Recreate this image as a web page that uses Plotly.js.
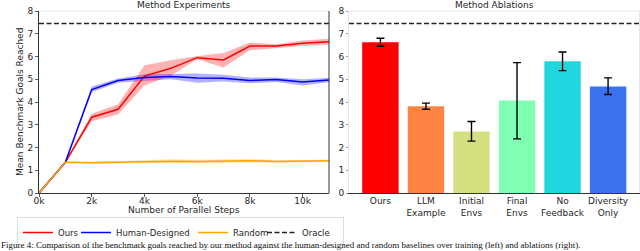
<!DOCTYPE html>
<html>
<head>
<meta charset="utf-8">
<script src="https://cdn.plot.ly/plotly-3.0.1.min.js"></script>
<style>html,body{margin:0;padding:0;background:#fff;}#chart{width:640px;height:251px;}</style>
</head>
<body>
<div id="chart"></div>
<script>
// ---- data ----
var steps = [0, 1000, 2000, 3000, 4000, 5000, 6000, 7000, 8000, 9000, 10000, 11000];
var stepTickVals = [0, 2000, 4000, 6000, 8000, 10000];
var stepTickLabels = ['0k', '2k', '4k', '6k', '8k', '10k'];

var ours   = [0, 1.35, 3.33, 3.68, 5.14, 5.48, 5.95, 5.85, 6.46, 6.46, 6.58, 6.65];
var oursLo = [0, 1.33, 3.15, 3.45, 4.72, 5.15, 5.88, 5.52, 6.28, 6.38, 6.46, 6.52];
var oursHi = [0, 1.37, 3.48, 3.90, 5.62, 5.84, 6.02, 6.15, 6.62, 6.54, 6.70, 6.78];

var human   = [0, 1.35, 4.55, 4.94, 5.08, 5.12, 5.06, 5.04, 4.94, 4.99, 4.88, 4.97];
var humanLo = [0, 1.33, 4.43, 4.85, 4.92, 5.00, 4.85, 4.90, 4.82, 4.88, 4.72, 4.87];
var humanHi = [0, 1.37, 4.68, 5.03, 5.22, 5.25, 5.25, 5.20, 5.08, 5.08, 5.00, 5.07];

var random   = [0, 1.35, 1.33, 1.35, 1.38, 1.40, 1.38, 1.40, 1.42, 1.38, 1.40, 1.42];
var randomLo = [0, 1.33, 1.29, 1.30, 1.31, 1.33, 1.30, 1.33, 1.35, 1.33, 1.35, 1.37];
var randomHi = [0, 1.37, 1.37, 1.40, 1.45, 1.48, 1.46, 1.48, 1.49, 1.45, 1.45, 1.46];

var oracle = 7.45;

var ablationCats  = ['Ours', 'LLM<br>Example', 'Initial<br>Envs', 'Final<br>Envs', 'No<br>Feedback', 'Diversity<br>Only'];
var ablationMeans = [6.63, 3.81, 2.70, 4.07, 5.79, 4.68];
var ablationHi    = [6.80, 3.95, 3.14, 5.73, 6.20, 5.06];
var ablationLo    = [6.45, 3.68, 2.28, 2.38, 5.38, 4.33];
var ablationColors = ['#ff0000', '#ff8444', '#d4e080', '#80ffb4', '#22d6e0', '#3a72f0'];

var captionText = 'Figure 4: Comparison of the benchmark goals reached by our method against the human-designed and random baselines over training (left) and ablations (right).';

// ---- helpers ----
var FONT = 'DejaVu Sans, sans-serif';
function band(lo, hi, fill) {
  return [
    {x: steps, y: lo, mode: 'lines', line: {width: 0, color: fill}, showlegend: false, hoverinfo: 'skip', xaxis: 'x', yaxis: 'y'},
    {x: steps, y: hi, mode: 'lines', line: {width: 0, color: fill}, fill: 'tonexty', fillcolor: fill, showlegend: false, hoverinfo: 'skip', xaxis: 'x', yaxis: 'y'}
  ];
}

var traces = [];
traces = traces.concat(band(randomLo, randomHi, 'rgba(255,165,0,0.3)'));
traces = traces.concat(band(humanLo, humanHi, 'rgba(0,0,255,0.3)'));
traces = traces.concat(band(oursLo, oursHi, 'rgba(255,0,0,0.3)'));
traces.push({x: steps, y: ours, name: 'Ours', legendwidth: 13, mode: 'lines', line: {color: '#ff0000', width: 1.5}, xaxis: 'x', yaxis: 'y'});
traces.push({x: steps, y: human, name: 'Human-Designed', legendwidth: 72, mode: 'lines', line: {color: '#0000ff', width: 1.5}, xaxis: 'x', yaxis: 'y'});
traces.push({x: steps, y: random, name: 'Random', legendwidth: 24, mode: 'lines', line: {color: '#ffa500', width: 1.5}, xaxis: 'x', yaxis: 'y'});
traces.push({x: [steps[0], steps[steps.length - 1]], y: [oracle, oracle], name: 'Oracle', legendwidth: 36, mode: 'lines', line: {color: '#222', width: 1.6, dash: '5px,2.5px'}, xaxis: 'x', yaxis: 'y'});

traces.push({
  type: 'bar', x: ablationCats, y: ablationMeans, xaxis: 'x2', yaxis: 'y2', showlegend: false,
  marker: {color: ablationColors},
  error_y: {
    type: 'data', symmetric: false,
    array: ablationHi.map(function (v, i) { return v - ablationMeans[i]; }),
    arrayminus: ablationMeans.map(function (v, i) { return v - ablationLo[i]; }),
    color: '#000', thickness: 1.4, width: 4
  }
});

var W = 640, H = 251;
function px(x) { return x / W; }
function py(y) { return 1 - y / H; }
var yDom = [py(193), py(11)];

var axisCommon = {
  showgrid: false, zeroline: false, showline: true, linecolor: '#333', linewidth: 1,
  ticks: 'outside', ticklen: 3, tickwidth: 0.8, tickcolor: '#333',
  tickfont: {family: FONT, size: 9, color: '#262626'}
};

var layout = {
  width: W, height: H,
  margin: {l: 0, r: 0, t: 0, b: 0},
  paper_bgcolor: '#fff', plot_bgcolor: '#fff',
  font: {family: FONT, size: 9, color: '#262626'},
  bargap: 0.2,
  xaxis: Object.assign({}, axisCommon, {domain: [px(39), px(329)], range: [0, 11000], tickvals: stepTickVals, ticktext: stepTickLabels, anchor: 'y', ticklabelstandoff: -4}),
  yaxis: Object.assign({}, axisCommon, {domain: yDom, range: [0, 8], dtick: 1, anchor: 'x'}),
  xaxis2: Object.assign({}, axisCommon, {domain: [px(349), px(639.5)], type: 'category', range: [-0.69, 5.69], ticks: '', anchor: 'y2', ticklabelstandoff: -1}),
  yaxis2: Object.assign({}, axisCommon, {domain: yDom, range: [0, 8], dtick: 1, anchor: 'x2', linecolor: '#e6e6e6', tickcolor: '#888', ticklen: 2}),
  legend: {
    orientation: 'h', x: px(17), y: py(217), xanchor: 'left', yanchor: 'top', traceorder: 'normal',
    bgcolor: '#fff', bordercolor: '#dddddd', borderwidth: 1,
    font: {family: FONT, size: 8.5, color: '#262626'}, itemwidth: 30, tracegroupgap: 0
  },
  shapes: [
    {type: 'line', xref: 'x domain', yref: 'y domain', x0: 0, x1: 1, y0: 1, y1: 1, line: {color: '#e6e6e6', width: 1}},
    {type: 'line', xref: 'x domain', yref: 'y domain', x0: 1, x1: 1, y0: 0, y1: 1, line: {color: '#333', width: 1}},
    {type: 'line', xref: 'x2 domain', yref: 'y2 domain', x0: 0, x1: 1, y0: 1, y1: 1, line: {color: '#e6e6e6', width: 1}},
    {type: 'line', xref: 'x2 domain', yref: 'y2 domain', x0: 1, x1: 1, y0: 0, y1: 1, line: {color: '#e6e6e6', width: 1}},
    {type: 'line', xref: 'x2 domain', yref: 'y2', x0: 0, x1: 1, y0: oracle, y1: oracle, line: {color: '#222', width: 1.6, dash: '5px,2.5px'}}
  ],
  annotations: [
    {text: 'Method Experiments', xref: 'paper', yref: 'paper', x: px(184), y: py(5), xanchor: 'center', yanchor: 'middle', showarrow: false, font: {family: FONT, size: 9, color: '#262626'}},
    {text: 'Method Ablations', xref: 'paper', yref: 'paper', x: px(494), y: py(5), xanchor: 'center', yanchor: 'middle', showarrow: false, font: {family: FONT, size: 9, color: '#262626'}},
    {text: 'Number of Parallel Steps', xref: 'paper', yref: 'paper', x: px(184), y: py(210), xanchor: 'center', yanchor: 'middle', showarrow: false, font: {family: FONT, size: 9, color: '#262626'}},
    {text: 'Mean Benchmark Goals Reached', xref: 'paper', yref: 'paper', x: px(20), y: py(102), xanchor: 'center', yanchor: 'middle', textangle: -90, showarrow: false, font: {family: FONT, size: 9, color: '#262626'}},
    {text: captionText, xref: 'paper', yref: 'paper', x: 0, y: 0, xanchor: 'left', yanchor: 'bottom', showarrow: false, borderpad: 0, font: {family: 'Liberation Serif, serif', size: 9, color: '#111'}}
  ]
};

Plotly.newPlot('chart', traces, layout, {displayModeBar: false, staticPlot: true});
</script>
</body>
</html>
